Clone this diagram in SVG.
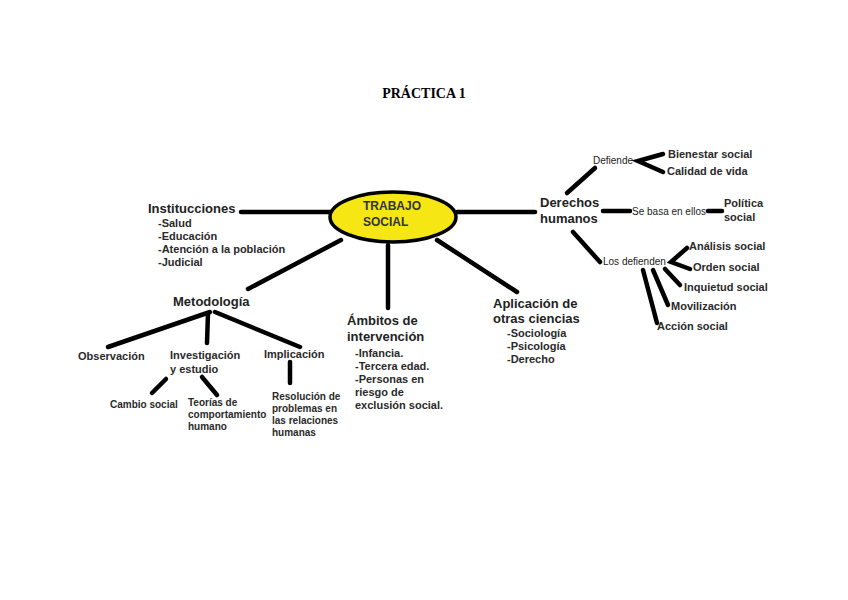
<svg xmlns="http://www.w3.org/2000/svg" width="848" height="600" viewBox="0 0 848 600">
<style>
.c line, .c polyline { stroke:#000; stroke-width:4.5; fill:none; stroke-linecap:round; }
text { font-family:"Liberation Sans", Arial, sans-serif; fill:#222; }
.h { font-size:13px; font-weight:bold; }
.s { font-size:11px; font-weight:bold; fill:#2a2a2a; }
.t { font-size:10px; font-weight:bold; fill:#2a2a2a; }
.r { font-size:10px; fill:#222; }
</style>
<rect width="848" height="600" fill="#fff"/>
<text x="424" y="98" text-anchor="middle" style="font-family:'Liberation Serif','Times New Roman',serif;font-size:14px;font-weight:bold;fill:#000">PRÁCTICA 1</text>
<g class="c">
<line x1="241" y1="212" x2="330" y2="212"/>
<line x1="457" y1="212" x2="535" y2="212"/>
<line x1="341" y1="240" x2="248" y2="289"/>
<line x1="388" y1="245" x2="388" y2="308"/>
<line x1="437" y1="240" x2="517" y2="292"/>
<line x1="567" y1="193" x2="595" y2="168"/>
<polyline points="663,154 638,161 663,172"/>
<line x1="603" y1="211" x2="630" y2="211"/>
<line x1="708" y1="211" x2="722" y2="211"/>
<line x1="573" y1="232" x2="600" y2="262"/>
<polyline points="687,248 671,262 690,269"/>
<line x1="643" y1="270" x2="657" y2="323"/>
<line x1="653" y1="270" x2="668" y2="305"/>
<line x1="665" y1="269" x2="680" y2="285"/>
<line x1="210" y1="312" x2="108" y2="347"/>
<line x1="208" y1="313" x2="207" y2="343"/>
<line x1="215" y1="312" x2="300" y2="347"/>
<line x1="166" y1="379" x2="152" y2="393"/>
<line x1="202" y1="377" x2="217" y2="395"/>
<line x1="290" y1="362" x2="290" y2="383"/>
</g>
<g id="trabajo-social">
<ellipse cx="393" cy="217" rx="63" ry="25" fill="#f5e614" stroke="#000" stroke-width="3.5"/>
<text x="363" y="210" style="font-size:12px;font-weight:bold;fill:#333">TRABAJO</text>
<text x="363" y="226" style="font-size:12px;font-weight:bold;fill:#333">SOCIAL</text>
</g>
<g id="instituciones">
<text class="h" x="148" y="213">Institucciones</text>
<text class="s" x="158" y="227">-Salud</text>
<text class="s" x="158" y="240">-Educación</text>
<text class="s" x="158" y="253">-Atención a la población</text>
<text class="s" x="158" y="266">-Judicial</text>
</g>
<g id="derechos">
<text class="h" x="540" y="207">Derechos</text>
<text class="h" x="540" y="223">humanos</text>
</g>
<g id="defiende"><text class="r" x="593" y="164">Defiende</text></g>
<g id="bienestar"><text class="s" x="668" y="158">Bienestar social</text></g>
<g id="calidad"><text class="s" x="667" y="175">Calidad de vida</text></g>
<g id="se-basa"><text class="r" x="632" y="215">Se basa en ellos</text></g>
<g id="politica">
<text class="s" x="724" y="207">Política</text>
<text class="s" x="724" y="221">social</text>
</g>
<g id="los-defienden"><text class="r" x="603" y="265">Los defienden</text></g>
<g id="analisis"><text class="s" x="689" y="250">Análisis social</text></g>
<g id="orden"><text class="s" x="693" y="271">Orden social</text></g>
<g id="inquietud"><text class="s" x="684" y="291">Inquietud social</text></g>
<g id="movilizacion"><text class="s" x="671" y="310">Movilización</text></g>
<g id="accion"><text class="s" x="657" y="330">Acción social</text></g>
<g id="metodologia"><text class="h" x="173" y="306">Metodología</text></g>
<g id="observacion"><text class="s" x="78" y="360">Observación</text></g>
<g id="investigacion">
<text class="s" x="170" y="359">Investigación</text>
<text class="s" x="170" y="373">y estudio</text>
</g>
<g id="implicacion"><text class="s" x="264" y="358">Implicación</text></g>
<g id="cambio"><text class="t" x="110" y="408">Cambio social</text></g>
<g id="teorias">
<text class="t" x="188" y="406">Teorías de</text>
<text class="t" x="188" y="418">comportamiento</text>
<text class="t" x="188" y="430">humano</text>
</g>
<g id="resolucion">
<text class="t" x="272" y="400">Resolución de</text>
<text class="t" x="272" y="412">problemas en</text>
<text class="t" x="272" y="424">las relaciones</text>
<text class="t" x="272" y="436">humanas</text>
</g>
<g id="ambitos">
<text class="h" x="347" y="325">Ámbitos de</text>
<text class="h" x="347" y="341">intervención</text>
<text class="s" x="355" y="357">-Infancia.</text>
<text class="s" x="355" y="370">-Tercera edad.</text>
<text class="s" x="355" y="383">-Personas en</text>
<text class="s" x="355" y="396">riesgo de</text>
<text class="s" x="355" y="409">exclusión social.</text>
</g>
<g id="aplicacion">
<text class="h" x="493" y="308">Aplicación de</text>
<text class="h" x="493" y="323">otras ciencias</text>
<text class="s" x="507" y="337">-Sociología</text>
<text class="s" x="507" y="350">-Psicología</text>
<text class="s" x="507" y="363">-Derecho</text>
</g>
</svg>
